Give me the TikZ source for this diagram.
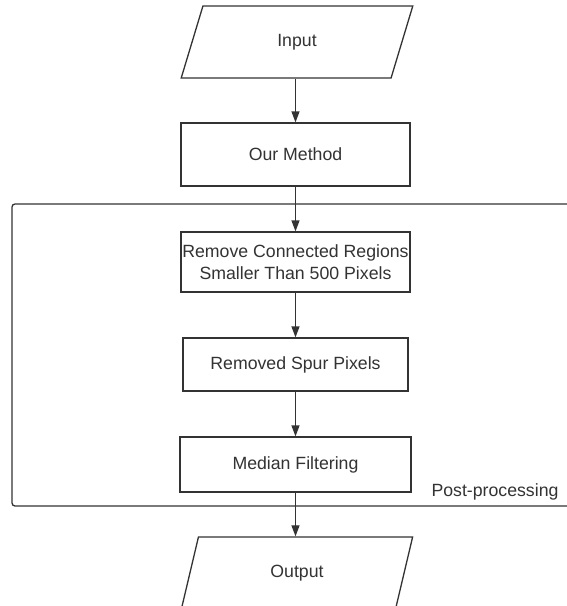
\documentclass[tikz,border=0pt]{standalone}
\usepackage{fontspec}
\setmainfont{Liberation Sans}
\usetikzlibrary{arrows.meta,shapes.geometric}
\definecolor{ink}{HTML}{333333}
\tikzset{
  stepbox/.style={draw=ink, line width=1.3pt, rectangle, inner sep=0pt, align=center,
    text=ink, font=\fontsize{17.7}{22.5}\selectfont},
  iobox/.style={draw=ink, line width=1.3pt, trapezium, trapezium left angle=74,
    trapezium right angle=106, trapezium stretches=true, inner sep=0pt,
    minimum width=232pt, minimum height=72pt, text=ink,
    font=\fontsize{17.7}{22.5}\selectfont},
  groupbox/.style={draw=ink, line width=1.3pt, rectangle, rounded corners=3pt, inner sep=0pt},
  flow/.style={draw=ink, line width=1.3pt, -{Triangle[length=11pt,width=8pt]}},
}
\begin{document}
\begin{tikzpicture}[x=1pt, y=-1pt]
  \useasboundingbox (0,0) rectangle (567,606);
  \clip (0,0) rectangle (567,606);
  \fill[white] (0,0) rectangle (567,606);

  % post-processing group, running off the right edge
  \node[groupbox, minimum width=600pt, minimum height=302pt] (post) at (312,355) {};
  \node[text=ink, font=\fontsize{17.7}{22.5}\selectfont, inner sep=0pt] (postlabel) at (495,492) {Post-processing};

  % flow steps
  \node[iobox] (in) at (297,42) {Input};
  \node[stepbox, minimum width=229pt, minimum height=63pt] (method) at (295.5,154.5) {Our Method};
  \node[stepbox, minimum width=229pt, minimum height=60pt] (regions) at (295.5,262) {Remove Connected Regions\\Smaller Than 500 Pixels};
  \node[stepbox, minimum width=225pt, minimum height=53pt] (spur) at (295.5,364.5) {Removed Spur Pixels};
  \node[stepbox, minimum width=231pt, minimum height=55pt] (median) at (295.5,464.5) {Median Filtering};
  \node[iobox] (out) at (297,573) {Output};

  % connectors
  \draw[flow] (in.south -| method.north) -- (method.north);
  \draw[flow] (method) -- (regions);
  \draw[flow] (regions) -- (spur);
  \draw[flow] (spur) -- (median);
  \draw[flow] (median.south) -- (median.south |- out.north);
\end{tikzpicture}
\end{document}
